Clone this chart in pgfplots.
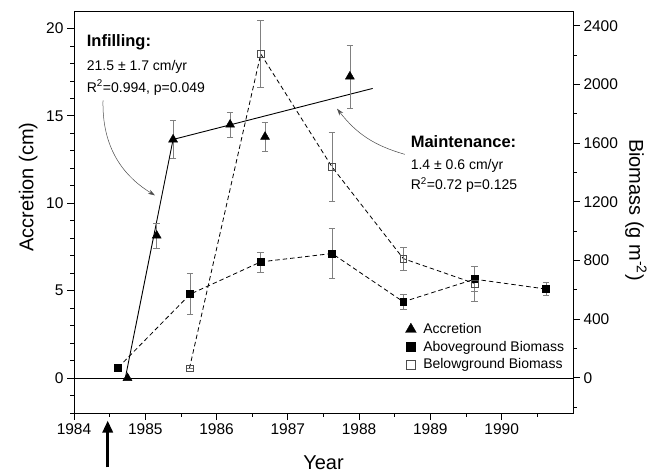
\documentclass[border=0pt]{standalone}
\usepackage{pgfplots}
\pgfplotsset{compat=1.18}
\usepackage{fontspec}
\setmainfont{Liberation Sans}
\usetikzlibrary{arrows.meta}

\begin{document}
\begin{tikzpicture}
\pgfplotsset{
  common/.style={
    scale only axis, width=499pt, height=402pt,
    xmin=1984, xmax=1991,
    tick align=outside,
    major tick length=7pt, minor tick length=4pt,
    every tick/.style={black, line width=0.8pt},
    axis line style={line width=0.9pt},
    /pgf/number format/assume math mode=true,
    /pgf/number format/1000 sep={},
    tick label style={font=\fontsize{15.5}{18}\selectfont},
    label style={font=\fontsize{20}{24}\selectfont},
    clip=false,
  },
  ebar/.style={error bars/.cd, y dir=both, y explicit,
    error bar style={line width=0.6pt, color=gray, solid},
    error mark options={rotate=90, mark size=3.3pt, line width=0.6pt, gray, solid}},
}
\begin{axis}[common, name=ax,
  ymin=-2, ymax=21,
  xtick={1984,...,1990},
  minor xtick={1984.5,1985.5,1986.5,1987.5,1988.5,1989.5,1990.5},
  ytick={0,5,...,20},
  minor ytick={-2,-1,1,2,3,4,6,7,8,9,11,12,13,14,16,17,18,19},
  xtick pos=left, ytick pos=left,
  xlabel={Year},
  xlabel style={at={(axis description cs:0.5,-0.141)}, anchor=base},
  ylabel={Accretion (cm)},
  ylabel style={at={(axis description cs:-0.092,0.562)}, anchor=center},
]
% zero line
\addplot[black, line width=0.9pt] coordinates {(1984,0) (1991,0)};
% regression lines
\addplot[black, line width=0.9pt] coordinates {(1984.72,0) (1985.39,13.65)};
\addplot[black, line width=0.9pt] coordinates {(1985.39,13.65) (1988.19,16.57)};
% accretion
\addplot[only marks, mark=triangle*, mark size=5.2pt, black, ebar]
  table[x=x, y=y, y error=e] {
x y e
1984.75 0 0
1985.16 8.15 0.7
1985.39 13.65 1.1
1986.19 14.5 0.7
1986.68 13.8 0.85
1987.87 17.25 1.8
};
% annotations
\node[inner sep=0pt, anchor=base west, font=\fontsize{16.5}{20}\selectfont\bfseries] at (axis cs:1984.178,18.94) {Infilling:};
\node[inner sep=0pt, anchor=base west, font=\fontsize{14}{17}\selectfont] at (axis cs:1984.178,17.60) {21.5 ± 1.7 cm/yr};
\node[inner sep=0pt, anchor=base west, font=\fontsize{14}{17}\selectfont] at (axis cs:1984.178,16.36) {R\textsuperscript{2}=0.994, p=0.049};
\node[inner sep=0pt, anchor=base west, font=\fontsize{16.5}{20}\selectfont\bfseries] at (axis cs:1988.722,13.18) {Maintenance:};
\node[inner sep=0pt, anchor=base west, font=\fontsize{14}{17}\selectfont] at (axis cs:1988.722,11.93) {1.4 ± 0.6 cm/yr};
\node[inner sep=0pt, anchor=base west, font=\fontsize{14}{17}\selectfont] at (axis cs:1988.722,10.77) {R\textsuperscript{2}=0.72 p=0.125};
\draw[gray!60!black, line width=0.5pt, -{Stealth[length=7pt,width=4.5pt]}] (axis cs:1984.407,15.88) to[bend right=30] (axis cs:1985.136,10.45);
\draw[gray!60!black, line width=0.5pt, -{Stealth[length=7pt,width=4.5pt]}] (axis cs:1988.64,12.8) to[bend left=18] (axis cs:1987.69,15.41);
% arrow below axis
\draw[black, line width=3pt, -{Triangle[length=12pt,width=10pt]}] (axis cs:1984.473,-5.11) -- (axis cs:1984.473,-2.43);
\end{axis}

\begin{axis}[common,
  axis x line=none, axis y line*=right,
  ymin=-240, ymax=2500,
  ytick={0,400,...,2400},
  minor ytick={-200,200,600,1000,1400,1800,2200},
  ylabel={Biomass (g m\textsuperscript{-2})},
  ylabel style={at={(axis description cs:1.126,0.505)}, anchor=center, rotate=180},
  legend style={at={(axis description cs:0.664,0.228)}, anchor=north west, draw=none, fill=none,
    font=\fontsize{14}{17}\selectfont, inner sep=0pt, row sep=2pt, column sep=5pt},
  legend cell align=left,
]
\addlegendimage{only marks, mark=triangle*, mark size=6.2pt, black}
\addlegendimage{only marks, mark=square*, mark size=4.6pt, black}
\addlegendimage{only marks, mark=square, mark size=4.6pt, black!70, mark options={fill=white, line width=0.6pt}}
% aboveground
\addplot[forget plot, black, line width=0.8pt, dash pattern=on 4.5pt off 3pt,
  mark=square*, mark size=3.4pt, mark options={solid}, ebar]
  table[x=x, y=y, y error=e] {
x y e
1984.62 70 0
1985.63 570 140
1986.62 790 68
1987.62 847 172
1988.62 518 50
1989.62 672 85
1990.62 605 45
};
% belowground
\addplot[forget plot, black, line width=0.8pt, dash pattern=on 4.5pt off 3pt,
  mark=square, mark size=3.4pt, mark options={solid, fill=white, draw=black!70, line width=0.6pt}, ebar]
  table[x=x, y=y, y error=e] {
x y e
1985.62 65 0
1986.62 2207 230
1987.62 1437 235
1988.62 812 77
1989.62 643 120
};
\legend{Accretion, Aboveground Biomass, Belowground Biomass}
\end{axis}
\pgfresetboundingbox
\path (ax.south west) ++(-74pt,-60pt) rectangle ++(657pt,473pt);
\end{tikzpicture}
\end{document}
